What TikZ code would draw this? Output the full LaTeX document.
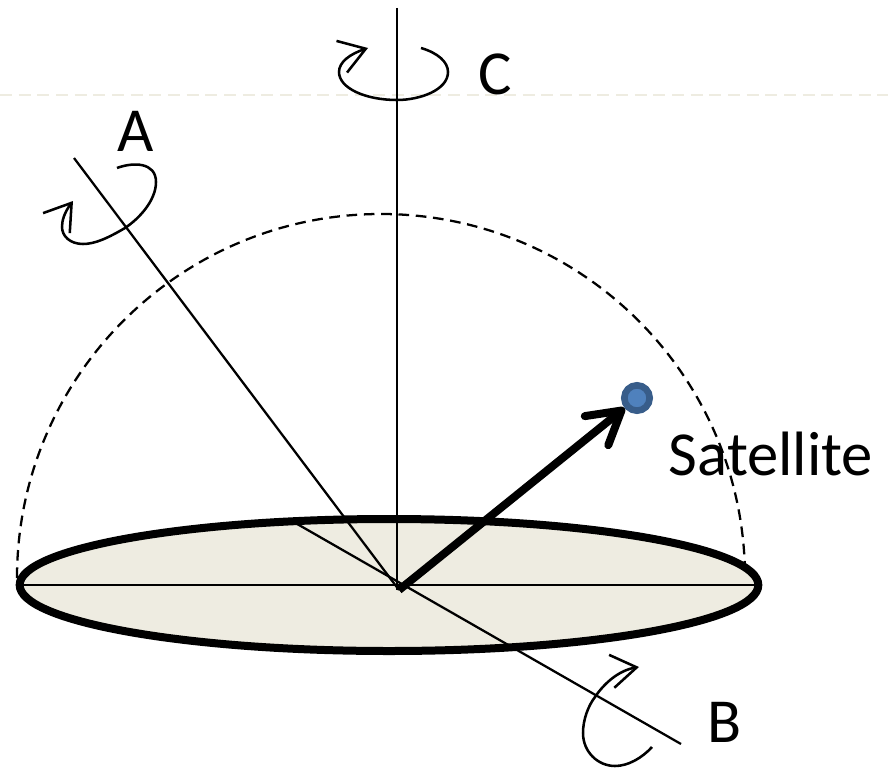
\documentclass[tikz,border=0pt]{standalone}
\usepackage{fontspec}
\setmainfont{Carlito}
\usetikzlibrary{arrows.meta,shapes.geometric}

\begin{document}
\begin{tikzpicture}[
  x=0.75pt, y=-0.75pt,
  axis/.style={draw, line width=1.7pt},
  spin/.style={draw, line width=1.9pt, -{Straight Barb[length=19pt, width=25pt, line width=1.9pt]}},
  lbl/.style={font=\fontsize{47}{47}\selectfont, inner sep=0pt},
  disc/.style={ellipse, draw, line width=6pt, fill=discfill, inner sep=0pt,
               minimum width=554pt, minimum height=99pt},
  sat/.style={circle, draw=satedge, line width=5pt, fill=satfill, inner sep=0pt, minimum size=19pt}]
\definecolor{discfill}{HTML}{EEECE1}
\definecolor{satfill}{HTML}{4F81BD}
\definecolor{satedge}{HTML}{385D8A}
\useasboundingbox (0,0) rectangle (888,767);
\coordinate (left) at (0,95);
\coordinate (right) at (888,95);
\draw[discfill, line width=2pt, dash pattern=on 9pt off 5pt] (left) -- (right);
\draw[line width=1.7pt, dash pattern=on 8pt off 5pt] (17,578) arc[start angle=180, end angle=360, x radius=364, y radius=364];
\node[disc] (disc) at (389,585) {};
\coordinate (centre) at (399,590);
\coordinate (ctop) at (397,8);
\coordinate (cbot) at (397,590);
\coordinate (atop) at (74,158);
\coordinate (bin) at (292,521);
\coordinate (bout) at (681,744);
\draw[axis] (disc.west) -- (disc.east);
\draw[axis] (ctop) -- (cbot);
\draw[axis] (atop) -- (centre);
\draw[axis] (bin) -- (bout);
\node[sat] (satellite) at (637,398) {};
\draw[line width=6pt, -{Straight Barb[length=24pt, width=28pt, line width=6pt, round]}] (centre) -- (satellite);
% rotation loops
\coordinate (cstart) at (421,48);
\coordinate (ctip) at (368,48);
\draw[spin] (cstart) .. controls (438,53) and (448,62) .. (448,72)
  .. controls (448,90) and (420,100) .. (397,100)
  .. controls (365,100) and (339,88) .. (339,72)
  .. controls (339,62) and (350,54) .. (ctip);
\coordinate (astart) at (117,168);
\coordinate (atip) at (73,201);
\draw[spin] (astart) .. controls (133,162) and (156,162) .. (156,182)
  .. controls (156,200) and (140,218) .. (125,228)
  .. controls (108,238) and (95,244) .. (83,244)
  .. controls (70,244) and (62,236) .. (62,227)
  .. controls (62,221) and (64,213) .. (atip);
\coordinate (bstart) at (652,747);
\coordinate (btip) at (639,667);
\draw[spin] (bstart) .. controls (642,758) and (628,766) .. (615,766)
  .. controls (598,766) and (583,752) .. (583,733)
  .. controls (583,720) and (588,706) .. (595,697)
  .. controls (605,682) and (620,670) .. (btip);
\node[lbl] (labela) at (136,131) {A};
\node[lbl] (labelb) at (725,722) {B};
\node[lbl] (labelc) at (495,74) {C};
\node[lbl] (labelsat) at (771,454) {Satellite};
\end{tikzpicture}
\end{document}
